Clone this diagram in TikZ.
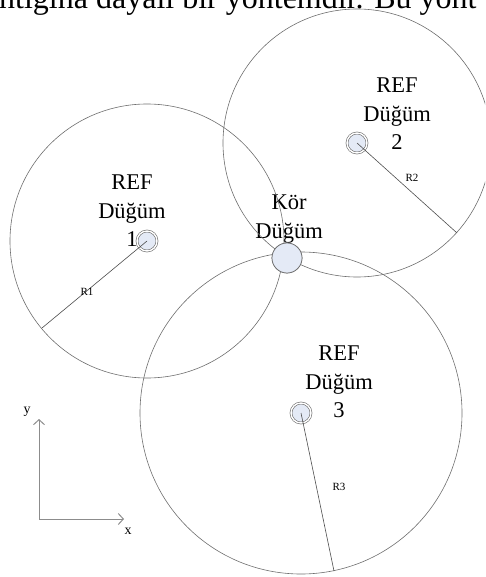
\documentclass[tikz,border=0pt]{standalone}
\usepackage{fontspec}
\setmainfont{Liberation Serif}
\usetikzlibrary{arrows.meta}

\definecolor{nodefill}{HTML}{E4EAF6}
\definecolor{ringgray}{HTML}{6E6E6E}

\begin{document}
\begin{tikzpicture}[x=1pt,y=-1pt,
    refnode/.style={circle, draw=ringgray, line width=0.6pt, double=white,
      double distance=1.4pt, fill=nodefill, minimum size=20pt, inner sep=0pt},
    blindnode/.style={circle, draw=ringgray, line width=0.7pt, fill=nodefill,
      minimum size=30pt, inner sep=0pt},
    rangecircle/.style={draw=ringgray, line width=0.6pt},
    radiusline/.style={draw=black!70, line width=0.6pt},
    biglabel/.style={font=\fontsize{22.5}{28.5}\selectfont, align=center, inner sep=0pt},
    smalllabel/.style={font=\fontsize{11}{12}\selectfont, inner sep=0pt},
    axis/.style={draw=black!45, line width=1pt, -{Straight Barb[length=5pt,width=11pt]}}]
    \useasboundingbox (0,0) rectangle (485,577);
    \clip (0,0) rectangle (485,577);

    % Page text above the figure
    \node[anchor=base west, inner sep=0pt, font=\fontsize{32}{36}\selectfont] (page) at (-1,9)
      {ntığına dayalı bir yöntemdir. Bu yönt};

    % Labels
    \node[biglabel] (lab1) at (132,211) {REF\\Düğüm\\1};
    \node[biglabel] (lab2) at (397,114) {REF\\Düğüm\\2};
    \node[biglabel] (lab3) at (339,382) {REF\\Düğüm\\3};
    \node[biglabel] (labb) at (289,219) {Kör\\Düğüm};

    % Reference nodes
    \node[refnode] (ref1) at (147,241) {};
    \node[refnode] (ref2) at (357,143) {};
    \node[refnode] (ref3) at (301,413) {};
    \node[blindnode] (blind) at (287,258) {};

    % Ranges
    \draw[rangecircle] (ref1.center) circle[radius=137];
    \draw[rangecircle] (ref2.center) circle[radius=134];
    \draw[rangecircle] (ref3.center) circle[radius=161];
    \node[blindnode] at (blind) {};

    % Radii
    \coordinate (end1) at (42,328);
    \coordinate (end2) at (457,233);
    \coordinate (end3) at (334,571);
    \draw[radiusline] (ref1.center) -- (end1);
    \draw[radiusline] (ref2.center) -- (end2);
    \draw[radiusline] (ref3.center) -- (end3);
    \node[smalllabel] (r1) at (87,292) {R1};
    \node[smalllabel] (r2) at (412,178) {R2};
    \node[smalllabel] (r3) at (339,487) {R3};

    % Axes
    \coordinate (origin) at (39,519);
    \coordinate (ytip) at (39,419);
    \coordinate (xtip) at (124,519);
    \draw[axis] (origin) -- (ytip);
    \draw[axis] (origin) -- (xtip);
    \node[font=\fontsize{14}{16}\selectfont, inner sep=0pt] (ylab) at (27,412) {y};
    \node[font=\fontsize{14}{16}\selectfont, inner sep=0pt] (xlab) at (128,531) {x};
\end{tikzpicture}
\end{document}
